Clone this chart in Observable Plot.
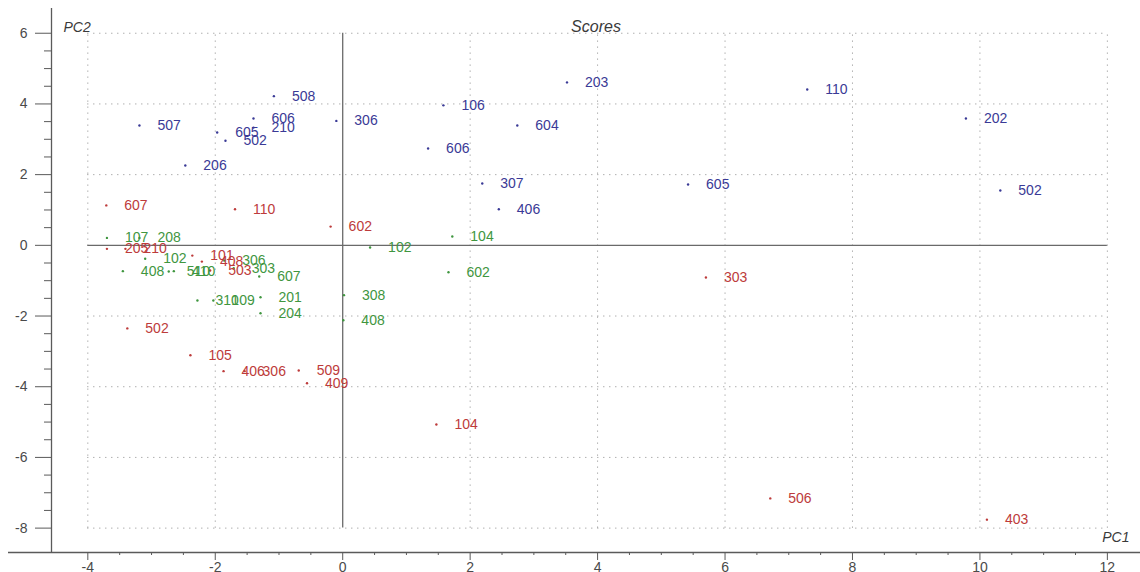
<!DOCTYPE html>
<html>
<head>
<meta charset="utf-8">
<script src="https://cdn.jsdelivr.net/npm/d3@7"></script>
<script src="https://cdn.jsdelivr.net/npm/@observablehq/plot@0.6"></script>
<style>
  html, body { margin: 0; padding: 0; background: #fff; }
  #chart svg { display: block; }
</style>
</head>
<body>
<div id="chart"></div>
<script>
// Sample codes and their principal component scores, one set of arrays per group
const blueNames = ["508", "507", "606", "210", "605", "502", "306", "206", "106", "203", "110", "202", "604", "606", "307", "406", "605", "502"];
const bluePC1 = [-1.08, -3.19, -1.40, -1.40, -1.97, -1.84, -0.10, -2.47, 1.58, 3.52, 7.29, 9.78, 2.74, 1.34, 2.19, 2.45, 5.42, 10.32];
const bluePC2 = [4.22, 3.39, 3.59, 3.33, 3.19, 2.96, 3.52, 2.26, 3.96, 4.61, 4.41, 3.59, 3.39, 2.74, 1.75, 1.02, 1.72, 1.55];

const redNames = ["607", "110", "602", "205", "210", "101", "408", "503", "502", "105", "406", "306", "509", "409", "104", "303", "506", "403"];
const redPC1 = [-3.71, -1.69, -0.19, -3.70, -3.41, -2.36, -2.21, -2.08, -3.38, -2.39, -1.87, -1.54, -0.69, -0.56, 1.47, 5.70, 6.71, 10.11];
const redPC2 = [1.13, 1.02, 0.53, -0.10, -0.10, -0.29, -0.46, -0.71, -2.35, -3.11, -3.56, -3.56, -3.54, -3.90, -5.07, -0.91, -7.16, -7.76];

const greenNames = ["107", "208", "102", "408", "510", "410", "306", "303", "607", "310", "109", "201", "204", "102", "104", "602", "308", "408"];
const greenPC1 = [-3.70, -3.19, -3.10, -3.45, -2.73, -2.65, -1.86, -1.71, -1.31, -2.28, -2.03, -1.29, -1.29, 0.43, 1.72, 1.66, 0.02, 0.01];
const greenPC2 = [0.21, 0.21, -0.38, -0.73, -0.74, -0.73, -0.43, -0.65, -0.88, -1.56, -1.56, -1.47, -1.92, -0.06, 0.25, -0.76, -1.41, -2.12];

// Axis tick values
const xMajor = [-4, -2, 0, 2, 4, 6, 8, 10, 12];
const yMajor = [-8, -6, -4, -2, 0, 2, 4, 6];

const colors = { blue: "#3a3a96", red: "#bd3b3b", green: "#3f963f" };

const rows = (names, pc1, pc2, group) =>
  names.map((name, i) => ({ name, pc1: pc1[i], pc2: pc2[i], group }));

const scores = [
  ...rows(blueNames, bluePC1, bluePC2, "blue"),
  ...rows(redNames, redPC1, redPC2, "red"),
  ...rows(greenNames, greenPC1, greenPC2, "green")
];

const xGridMin = d3.min(xMajor), xGridMax = d3.max(xMajor);
const yGridMin = d3.min(yMajor), yGridMax = d3.max(yMajor);
const xMinor = d3.range(xGridMin * 2, xGridMax * 2 + 1).map(d => d / 2).filter(d => !xMajor.includes(d));
const yMinor = d3.range(yGridMin * 2, yGridMax * 2 + 1).map(d => d / 2).filter(d => !yMajor.includes(d));

const xDomain = [-4.57, 12.52];
const yDomain = [-8.69, 6.70];

const font = "'Liberation Sans', Arial, sans-serif";
const axisColor = "#5a5a5a";
const gridColor = "#8a8a8a";

const chart = Plot.plot({
  width: 1140,
  height: 572,
  marginLeft: 51,
  marginRight: 0,
  marginTop: 8,
  marginBottom: 20,
  style: { fontFamily: font, background: "#fff" },
  x: { domain: xDomain, axis: null },
  y: { domain: yDomain, axis: null },
  marks: [
    // dotted grid
    Plot.ruleX(xMajor.filter(d => d !== 0), { y1: yGridMin, y2: yGridMax, stroke: gridColor, strokeWidth: 1, strokeDasharray: "1,5" }),
    Plot.ruleY(yMajor.filter(d => d !== 0), { x1: xGridMin, x2: xGridMax, stroke: gridColor, strokeWidth: 1, strokeDasharray: "1,5" }),
    // solid zero lines
    Plot.ruleX([0], { y1: yGridMin, y2: yGridMax, stroke: "#6a6a6a", strokeWidth: 1.3 }),
    Plot.ruleY([0], { x1: xGridMin, x2: xGridMax, stroke: "#6a6a6a", strokeWidth: 1.3 }),
    // axis lines
    Plot.ruleX([xDomain[0]], { stroke: axisColor, strokeWidth: 1.3 }),
    Plot.ruleY([yDomain[0]], { stroke: axisColor, strokeWidth: 1.3, insetLeft: -43 }),
    // axes with major and minor ticks
    Plot.axisX({ ticks: xMajor, anchor: "bottom", tickSize: 8, tickPadding: 2, fontSize: 14, fill: "#4a4a4a", stroke: axisColor, label: null, tickFormat: d => String(d) }),
    Plot.axisX({ ticks: xMinor, anchor: "bottom", tickSize: 3, stroke: axisColor, label: null, tickFormat: () => "" }),
    Plot.axisY({ ticks: yMajor, anchor: "left", tickSize: 16, tickPadding: 8, fontSize: 14, fill: "#4a4a4a", stroke: axisColor, label: null, tickFormat: d => String(d) }),
    Plot.axisY({ ticks: yMinor, anchor: "left", tickSize: 7, stroke: axisColor, label: null, tickFormat: () => "" }),
    // points and their labels
    Plot.dot(scores, { x: "pc1", y: "pc2", r: 1.2, fill: d => colors[d.group], stroke: "none" }),
    Plot.text(scores, { x: "pc1", y: "pc2", text: "name", dx: 18, textAnchor: "start", lineAnchor: "middle", fontSize: 14, fill: d => colors[d.group] }),
    // titles
    Plot.text(["Scores"], { frameAnchor: "top", dy: 12, fontSize: 16, fontStyle: "italic", fill: "#3a3a3a" }),
    Plot.text(["PC2"], { frameAnchor: "top-left", dx: 12, dy: 14, textAnchor: "start", fontSize: 14, fontStyle: "italic", fill: "#3a3a3a" }),
    Plot.text(["PC1"], { frameAnchor: "bottom-right", dx: -11, dy: -11, textAnchor: "end", fontSize: 14, fontStyle: "italic", fill: "#3a3a3a" })
  ]
});

document.getElementById("chart").append(chart);
</script>
</body>
</html>
